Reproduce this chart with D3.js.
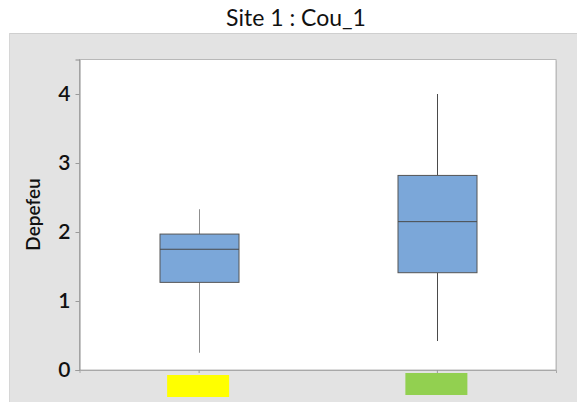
<!DOCTYPE html>
<html>
<head>
<meta charset="utf-8">
<script src="https://cdn.jsdelivr.net/npm/d3@7"></script>
<style>
  html, body { margin: 0; padding: 0; background: #ffffff; }
  svg { display: block; font-family: Lato, "Open Sans", sans-serif; }
</style>
</head>
<body>
<svg id="chart" width="577" height="402"></svg>
<script>
// Groups and their box-plot summaries (Depefeu)
const groups = ["A", "B"];
const groupColors = ["#ffff00", "#92d050"];
const whiskerLow = [0.25, 0.42];
const q1 = [1.27, 1.41];
const median = [1.75, 2.15];
const q3 = [1.97, 2.82];
const whiskerHigh = [2.33, 4.0];
const yTicks = [0, 1, 2, 3, 4];

const title = "Site 1 : Cou_1";
const yLabel = "Depefeu";

const svg = d3.select("#chart");
const W = 577, H = 402;
const plot = { left: 79.5, right: 556, top: 59.5, bottom: 370 };

// outer grey panel
svg.append("rect")
  .attr("x", 9).attr("y", 33).attr("width", W - 9).attr("height", H - 33)
  .attr("fill", "#e3e3e3");
svg.append("line")
  .attr("x1", 9).attr("x2", W).attr("y1", 33.5).attr("y2", 33.5)
  .attr("stroke", "#cfcfcf");
svg.append("line")
  .attr("x1", 9.5).attr("x2", 9.5).attr("y1", 33).attr("y2", H)
  .attr("stroke", "#d6d6d6");

// title
svg.append("text")
  .attr("x", 296).attr("y", 26)
  .attr("text-anchor", "middle")
  .attr("font-size", 23)
  .attr("fill", "#111")
  .text(title);

const x = d3.scalePoint().domain(groups).range([plot.left, plot.right]).padding(0.5);
const y = d3.scaleLinear().domain([0, 4.5]).range([plot.bottom, plot.top]);

// plot area with soft shadow on right/bottom edges
svg.append("rect")
  .attr("x", plot.left + 1).attr("y", plot.top + 1)
  .attr("width", plot.right - plot.left).attr("height", plot.bottom - plot.top)
  .attr("fill", "#c4c4c4");
svg.append("rect")
  .attr("x", plot.left).attr("y", plot.top)
  .attr("width", plot.right - plot.left).attr("height", plot.bottom - plot.top)
  .attr("fill", "#ffffff")
  .attr("stroke", "#b8b8b8").attr("stroke-width", 1);

// y axis
const yAxis = svg.append("g")
  .attr("transform", `translate(${plot.left},0)`)
  .call(d3.axisLeft(y).tickValues(yTicks).tickFormat(d3.format("d")).tickSize(4).tickPadding(5));
yAxis.select(".domain").attr("stroke", "#8c8c8c");
yAxis.selectAll(".tick line").attr("stroke", "#9a9a9a");
yAxis.selectAll(".tick text")
  .attr("font-size", 21).attr("font-weight", 600).attr("fill", "#111")
  .attr("font-family", "Lato, 'Open Sans', sans-serif");

// x axis ticks (no labels; coloured swatches underneath)
const xAxis = svg.append("g")
  .attr("transform", `translate(0,${plot.bottom})`)
  .call(d3.axisBottom(x).tickSize(3).tickFormat(""));
xAxis.select(".domain").attr("stroke", "#a8a8a8");
xAxis.selectAll(".tick line").attr("stroke", "#9a9a9a");

const swatchW = 62, swatchH = 22;
const swatchY = [375, 373];
svg.append("g").selectAll("rect")
  .data(groups)
  .join("rect")
  .attr("x", d => x(d) - swatchW / 2 - 0.5)
  .attr("y", (d, i) => swatchY[i])
  .attr("width", swatchW).attr("height", swatchH)
  .attr("fill", (d, i) => groupColors[i]);

// y label
svg.append("text")
  .attr("transform", "translate(40,214.5) rotate(-90)")
  .attr("text-anchor", "middle")
  .attr("font-size", 19).attr("font-weight", 600).attr("fill", "#111")
  .text(yLabel);

// boxes
const boxW = 79;
const whiskerColors = ["#8f8f8f", "#4a4a4a"];
const g = svg.append("g");
groups.forEach((d, i) => {
  const cx = Math.round(x(d)) + 0.5;
  g.append("line")
    .attr("x1", cx).attr("x2", cx)
    .attr("y1", y(whiskerHigh[i])).attr("y2", y(q3[i]))
    .attr("stroke", whiskerColors[i]).attr("stroke-width", 1);
  g.append("line")
    .attr("x1", cx).attr("x2", cx)
    .attr("y1", y(q1[i])).attr("y2", y(whiskerLow[i]))
    .attr("stroke", whiskerColors[i]).attr("stroke-width", 1);
  g.append("rect")
    .attr("x", cx - boxW / 2).attr("y", y(q3[i]))
    .attr("width", boxW).attr("height", y(q1[i]) - y(q3[i]))
    .attr("fill", "#7ba7d9")
    .attr("stroke", "#555").attr("stroke-width", 1);
  g.append("line")
    .attr("x1", cx - boxW / 2).attr("x2", cx + boxW / 2)
    .attr("y1", y(median[i])).attr("y2", y(median[i]))
    .attr("stroke", "#4a4a4a").attr("stroke-width", 1);
});
</script>
</body>
</html>
